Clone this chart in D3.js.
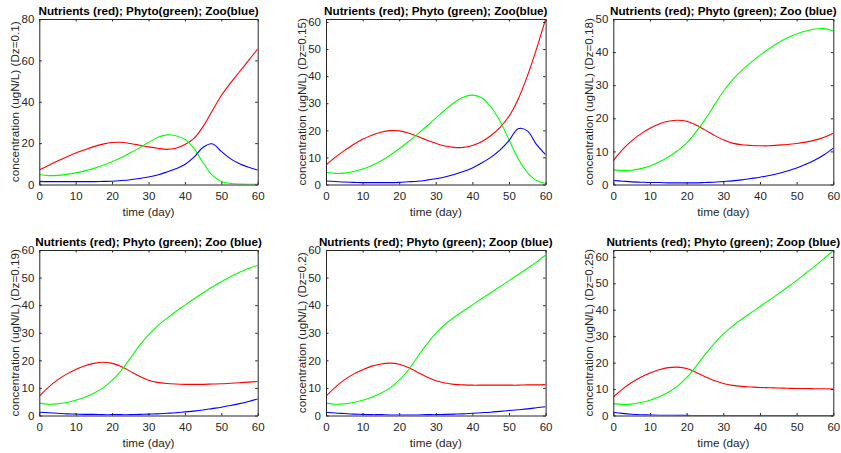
<!DOCTYPE html>
<html>
<head>
<meta charset="utf-8">
<script src="https://cdn.jsdelivr.net/npm/d3@7"></script>
<style>
  html, body { margin: 0; padding: 0; background: #fff; }
  svg { display: block; }
  text { font-family: "Liberation Sans", Arial, Helvetica, sans-serif; }
</style>
</head>
<body>
<svg id="chart" width="841" height="453"></svg>
<script>
// ---- data ----
const days = [0, 2.5, 5, 7.5, 10, 12.5, 15, 17.5, 20, 22.5, 25, 27.5, 30, 32.5, 35, 37.5, 40, 42.5, 45, 47.5, 50, 52.5, 55, 57.5, 60];

const titles = [
  "Nutrients (red); Phyto(green); Zoo(blue)",
  "Nutrients (red); Phyto (green); Zoo(blue)",
  "Nutrients (red); Phyto (green); Zoo (blue)",
  "Nutrients (red); Phyto (green); Zoo (blue)",
  "Nutrients (red); Phyto (green); Zoop (blue)",
  "Nutrients (red); Phyto (green); Zoop (blue)"
];
const yLabels = [
  "concentration (ugN/L) (Dz=0.1)",
  "concentration (ugN/L) (Dz=0.15)",
  "concentration (ugN/L) (Dz=0.18)",
  "concentration (ugN/L) (Dz=0.19)",
  "concentration (ugN/L) (Dz=0.2)",
  "concentration (ugN/L) (Dz=0.25)"
];
const xTicks = [0, 10, 20, 30, 40, 50, 60];
const yMax = [80, 61.1, 50, 60, 60, 62.6];
const yTicks = [
  [0, 20, 40, 60, 80],
  [0, 10, 20, 30, 40, 50, 60],
  [0, 10, 20, 30, 40, 50],
  [0, 10, 20, 30, 40, 50, 60],
  [0, 10, 20, 30, 40, 50, 60],
  [0, 10, 20, 30, 40, 50, 60]
];

// Dz = 0.1
const nutrients1 = [7.0, 9.2, 11.3, 13.3, 15.2, 16.8, 18.3, 19.5, 20.3, 20.4, 19.8, 19.0, 18.2, 17.5, 17.0, 17.5, 19.3, 22.3, 28.0, 35.5, 43.0, 49.0, 54.5, 60.0, 65.5];
const phyto1     = [4.8, 4.3, 4.4, 4.9, 5.6, 6.6, 7.8, 9.3, 11.0, 13.0, 15.3, 17.7, 20.3, 22.7, 24.0, 23.6, 21.8, 17.5, 10.5, 4.5, 1.5, 0.5, 0.2, 0.1, 0.1];
const zoo1       = [1.5, 1.4, 1.4, 1.4, 1.4, 1.4, 1.4, 1.5, 1.6, 1.9, 2.3, 2.9, 3.6, 4.6, 6.0, 7.6, 9.7, 13.2, 18.0, 19.7, 16.0, 12.5, 10.0, 8.3, 7.0];
// Dz = 0.15
const nutrients2 = [7.2, 10.0, 12.5, 14.8, 16.7, 18.2, 19.3, 19.9, 19.8, 19.0, 17.8, 16.4, 15.2, 14.2, 13.7, 13.7, 14.4, 15.8, 18.0, 21.0, 25.2, 31.5, 40.0, 50.0, 61.0];
const phyto2     = [4.5, 4.1, 4.2, 4.8, 5.7, 7.0, 8.7, 10.8, 13.2, 15.8, 18.6, 21.5, 24.5, 27.5, 30.2, 32.2, 33.0, 32.0, 28.7, 23.5, 16.5, 9.5, 4.5, 1.5, 0.4];
const zoo2       = [1.3, 1.1, 0.9, 0.8, 0.7, 0.7, 0.7, 0.7, 0.8, 1.0, 1.2, 1.6, 2.1, 2.8, 3.7, 4.8, 6.1, 7.9, 10.0, 12.7, 16.2, 20.6, 19.8, 14.8, 11.0];
// Dz = 0.18
const nutrients3 = [7.2, 10.5, 13.2, 15.3, 17.0, 18.3, 19.1, 19.4, 19.1, 18.0, 16.5, 14.9, 13.5, 12.5, 12.0, 11.8, 11.7, 11.7, 11.9, 12.1, 12.4, 12.8, 13.4, 14.3, 15.5];
const phyto3     = [4.5, 4.2, 4.3, 4.8, 5.6, 6.8, 8.3, 10.2, 12.5, 15.8, 19.6, 23.9, 28.1, 31.6, 34.4, 36.8, 39.0, 41.0, 42.8, 44.3, 45.5, 46.4, 47.0, 47.1, 46.4];
const zoo3       = [1.2, 1.0, 0.8, 0.7, 0.6, 0.6, 0.5, 0.5, 0.5, 0.5, 0.6, 0.7, 0.9, 1.1, 1.4, 1.8, 2.2, 2.7, 3.3, 4.1, 5.0, 6.1, 7.4, 9.0, 11.0];
// Dz = 0.19
const nutrients4 = [7.0, 10.2, 12.9, 15.0, 16.7, 18.0, 18.9, 19.3, 18.9, 17.8, 16.0, 14.2, 12.8, 12.0, 11.6, 11.4, 11.3, 11.3, 11.3, 11.4, 11.5, 11.7, 11.9, 12.1, 12.3];
const phyto4     = [4.5, 4.1, 4.2, 4.7, 5.5, 6.6, 8.1, 10.0, 12.7, 16.3, 20.8, 25.3, 29.2, 32.5, 35.2, 37.7, 40.0, 42.3, 44.5, 46.6, 48.5, 50.3, 51.9, 53.3, 54.5];
const zoo4       = [1.2, 1.0, 0.8, 0.6, 0.5, 0.4, 0.4, 0.3, 0.3, 0.3, 0.3, 0.4, 0.5, 0.6, 0.8, 1.0, 1.3, 1.6, 2.0, 2.5, 3.0, 3.6, 4.3, 5.1, 6.0];
// Dz = 0.2
const nutrients5 = [7.0, 10.2, 12.9, 15.0, 16.6, 17.9, 18.7, 19.0, 18.6, 17.4, 15.7, 14.0, 12.6, 11.8, 11.3, 11.1, 11.0, 11.0, 11.0, 11.0, 11.0, 11.0, 11.1, 11.1, 11.2];
const phyto5     = [4.5, 4.1, 4.2, 4.7, 5.5, 6.6, 8.1, 10.0, 12.8, 16.5, 21.2, 25.8, 29.8, 33.0, 35.6, 37.9, 40.1, 42.3, 44.5, 46.7, 48.9, 51.1, 53.3, 55.6, 58.2];
const zoo5       = [1.2, 0.9, 0.7, 0.5, 0.4, 0.3, 0.3, 0.2, 0.2, 0.2, 0.2, 0.3, 0.3, 0.4, 0.5, 0.6, 0.8, 1.0, 1.2, 1.5, 1.8, 2.1, 2.4, 2.8, 3.2];
// Dz = 0.25
const nutrients6 = [7.0, 10.0, 12.5, 14.5, 16.1, 17.3, 18.1, 18.3, 17.8, 16.4, 14.7, 13.2, 12.1, 11.4, 11.0, 10.8, 10.6, 10.5, 10.4, 10.3, 10.2, 10.2, 10.1, 10.1, 10.0];
const phyto6     = [4.5, 4.2, 4.3, 4.9, 5.8, 7.1, 8.8, 11.1, 14.3, 18.5, 23.0, 27.2, 30.8, 33.8, 36.4, 38.8, 41.2, 43.6, 46.0, 48.5, 51.1, 53.8, 56.5, 59.4, 62.4];
const zoo6       = [1.2, 0.8, 0.5, 0.3, 0.2, 0.1, 0.1, 0.05, 0.03, 0.02, 0.02, 0.01, 0.01, 0.01, 0.01, 0.01, 0.01, 0.01, 0.01, 0.01, 0.01, 0.01, 0.01, 0.01, 0.01];

const nutrients = [nutrients1, nutrients2, nutrients3, nutrients4, nutrients5, nutrients6];
const phyto = [phyto1, phyto2, phyto3, phyto4, phyto5, phyto6];
const zoo = [zoo1, zoo2, zoo3, zoo4, zoo5, zoo6];

// ---- layout ----
const colX = [[39.3, 257.7], [326, 545.6], [613.3, 833.3]];
const rowY = [[19, 184.5], [250, 415.5]];
const axisColor = "#262626";
const seriesColors = ["#ff0000", "#00ff00", "#0000ff"];

const svg = d3.select("#chart");

for (let i = 0; i < 6; i++) {
  const col = i % 3, row = Math.floor(i / 3);
  const [x0, x1] = colX[col];
  const [y0, y1] = rowY[row];
  const x = d3.scaleLinear().domain([0, 60]).range([x0, x1]);
  const y = d3.scaleLinear().domain([0, yMax[i]]).range([y1, y0]);
  const g = svg.append("g");

  g.append("rect").attr("x", x0).attr("y", y0).attr("width", x1 - x0).attr("height", y1 - y0)
    .attr("fill", "#fff");

  const clipId = "clip" + i;
  svg.append("clipPath").attr("id", clipId).append("rect")
    .attr("x", x0).attr("y", y0).attr("width", x1 - x0).attr("height", y1 - y0);

  const line = d3.line().x((d, k) => x(days[k])).y(d => y(d)).curve(d3.curveCatmullRom.alpha(0.5));
  [nutrients[i], phyto[i], zoo[i]].forEach((s, k) => {
    g.append("path").attr("d", line(s)).attr("fill", "none")
      .attr("stroke", seriesColors[k]).attr("stroke-width", 1.1)
      .attr("clip-path", `url(#${clipId})`);
  });

  const tl = 2.5;
  const fmt = d3.format("d");
  const bottom = d3.axisBottom(x).tickValues(xTicks).tickSizeInner(-tl).tickSizeOuter(0).tickPadding(7).tickFormat(fmt);
  const top = d3.axisTop(x).tickValues(xTicks).tickSizeInner(-tl).tickSizeOuter(0).tickFormat("");
  const left = d3.axisLeft(y).tickValues(yTicks[i]).tickSizeInner(-tl).tickSizeOuter(0).tickPadding(5).tickFormat(fmt);
  const right = d3.axisRight(y).tickValues(yTicks[i]).tickSizeInner(-tl).tickSizeOuter(0).tickFormat("");

  const styleAxis = (sel) => {
    sel.select(".domain").attr("stroke", axisColor).attr("stroke-width", 1);
    sel.selectAll(".tick line").attr("stroke", axisColor).attr("stroke-width", 1);
    sel.selectAll(".tick text").attr("fill", axisColor).style("font-size", "11.5px")
      .style("font-family", '"Liberation Sans", Arial, sans-serif');
  };
  g.append("g").attr("transform", `translate(0,${y1})`).call(bottom).call(styleAxis);
  g.append("g").attr("transform", `translate(0,${y0})`).call(top).call(styleAxis);
  g.append("g").attr("transform", `translate(${x0},0)`).call(left).call(styleAxis);
  g.append("g").attr("transform", `translate(${x1},0)`).call(right).call(styleAxis);

  g.append("text").attr("x", (x0 + x1) / 2).attr("y", y0 - 4.5)
    .attr("text-anchor", "middle").attr("font-weight", "bold")
    .style("font-size", "11.7px").attr("fill", "#000").text(titles[i]);

  g.append("text").attr("x", (x0 + x1) / 2).attr("y", y1 + 31)
    .attr("text-anchor", "middle").style("font-size", "11.7px").attr("fill", axisColor)
    .text("time (day)");

  g.append("text")
    .attr("transform", `translate(${x0 - 20.5},${(y0 + y1) / 2}) rotate(-90)`)
    .attr("text-anchor", "middle").style("font-size", "11.7px").attr("fill", axisColor)
    .text(yLabels[i]);
}
</script>
</body>
</html>
